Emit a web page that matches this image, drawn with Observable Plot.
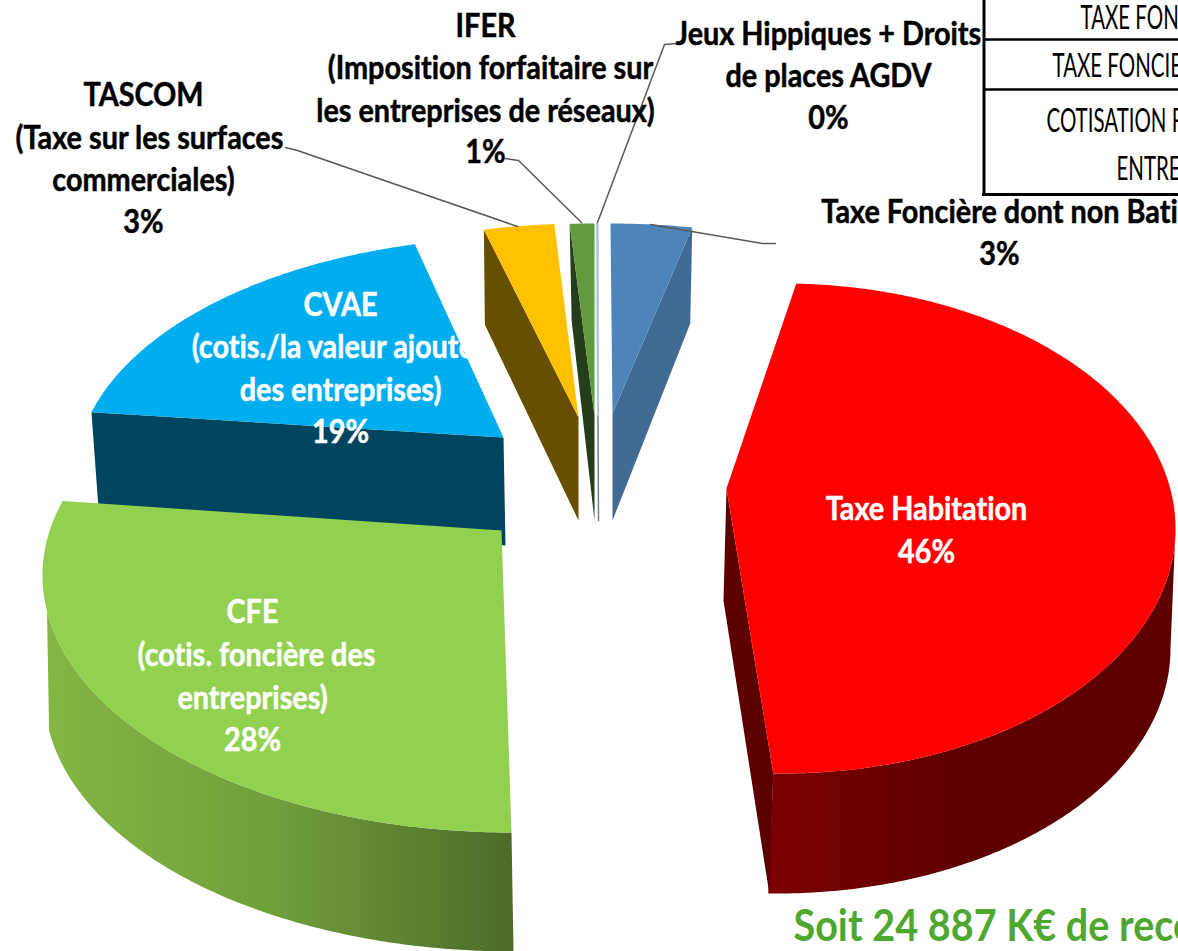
<!DOCTYPE html>
<html lang="fr">
<head>
<meta charset="utf-8">
<script src="https://cdn.jsdelivr.net/npm/d3@7"></script>
<script src="https://cdn.jsdelivr.net/npm/@observablehq/plot@0.6"></script>
<style>
html,body{margin:0;padding:0;background:#fff;overflow:hidden}
svg{display:block}
svg text{font-variant-ligatures:none;font-feature-settings:"liga" 0}
</style>
</head>
<body>
<div id="chart"></div>
<script>
// ---- data ----
const sliceNames = ["Taxe Foncière dont non Bati","Taxe Habitation","CFE","CVAE","TASCOM","IFER","Jeux Hippiques + Droits de places AGDV"];
const sliceValues = [3,46,28,19,3,1,0];
const tableLines = ["TAXE FONCIERE","TAXE FONCIERE","COTISATION FONCIERE","ENTREPRISES"];
const footerText = "Soit 24 887 K€ de recettes";

// ---- layout of the exploded, perspective pie (one entry per slice) ----
const shape = [
 {start:0,    stretch:.98, c:[610,455], r:[445,232], apex:[612,413], apexB:[612,520], wall:"end",   off:[-2,96],  top:"#4d85bb", side:"#3f6b94"},
 {start:2,    stretch:1.083,c:[782,528],r:[393,245], apex:[726,488], apexB:[723,600], wall:"end",   off:[-4,120], top:"#ff0000", side:"#5c0000", rim:[90,"url(#rimRed)"], rimAt:"end", rimOff:[-5,120]},
 {start:180,  stretch:1.06,c:[511,575], r:[469,257], apex:[501,530], top:"#92d050", rim:[262,"url(#rimGreen)"], rimAt:"start", rimOff:[2,119]},
 {start:285.4,stretch:.89, c:[520,475], r:[445,238], apex:[503,437], apexB:[505,545], wall:"start", off:[7,96],   top:"#00aeef", side:"#00455f"},
 {start:346.8,stretch:.85, c:[585,455], r:[445,232], apex:[578,417], apexB:[578,520], wall:"start", off:[1,95],   top:"#ffc000", side:"#665000"},
 {start:356.8,stretch:.89, c:[594,455], r:[445,232], apex:[594,415], apexB:[594,520], wall:"start", off:[2,97],   top:"#629a3e", side:"#243d1a"},
 {start:360,  stretch:1,   c:[597,455], r:[445,232], apex:[597.5,415], apexB:[598,520], wall:"start", off:[0,97], top:"#a9c4e4", side:"#6b7f94", hair:true}
];
const drawOrder = [3,2,4,5,6,0,1];

const dark = "#000";
const labels = [
 {x:143,y:95,t:"TASCOM",f:dark},{x:149,y:138,t:"(Taxe sur les surfaces",f:dark},{x:143,y:180,t:"commerciales)",f:dark},{x:143,y:222,t:"3%",f:dark},
 {x:485,y:26,t:"IFER",f:dark},{x:490,y:68,t:"(Imposition forfaitaire sur",f:dark},{x:485,y:111,t:"les entreprises de réseaux)",f:dark},{x:485,y:152,t:"1%",f:dark},
 {x:828,y:34,t:"Jeux Hippiques + Droits",f:dark},{x:828,y:76,t:"de places AGDV",f:dark},{x:828,y:118,t:"0%",f:dark},
 {x:999,y:212,t:"Taxe Foncière dont non Bati",f:dark},{x:999,y:254,t:"3%",f:dark},
 {x:340,y:305,t:"CVAE",f:"#fff"},{x:340,y:347,t:"(cotis./la valeur ajoutée",f:"#fff"},{x:340,y:390,t:"des entreprises)",f:"#fff"},{x:340,y:432,t:"19%",f:"#fff"},
 {x:252,y:612,t:"CFE",f:"#fff"},{x:256,y:655,t:"(cotis. foncière des",f:"#fff"},{x:252,y:698,t:"entreprises)",f:"#fff"},{x:252,y:740,t:"28%",f:"#fff"},
 {x:926,y:509,t:"Taxe Habitation",f:"#fff"},{x:926,y:552,t:"46%",f:"#fff"}
];
const leaders = [
 [[285,147],[297,150],[517,226]],
 [[505,158],[518,160],[581,222]],
 [[676,43],[664,44],[597,222]],
 [[775,243],[762,243],[650,224]]
];
const tableText = [{x:1080,y:18,t:tableLines[0]},{x:1052,y:66,t:tableLines[1]},{x:1046,y:121,t:tableLines[2]},{x:1116,y:169,t:tableLines[3]}];

// ---- geometry from values ----
const rad = Math.PI/180;
const pt = (s,t,o=[0,0]) => [s.c[0]+s.r[0]*Math.sin(t*rad)+o[0], s.c[1]-s.r[1]*Math.cos(t*rad)+o[1]];
const arc = (s,a,b,o) => { const n = Math.max(2,Math.ceil(Math.abs(b-a)*2)); return d3.range(n+1).map(i=>pt(s,a+(b-a)*i/n,o)); };
const poly = (pts,fill,extra={}) => Plot.line(pts,{x:d=>d[0],y:d=>d[1],fill,stroke:"none",curve:"linear",...extra});

const marks = [];
const defs = () => {
  const ns = "http://www.w3.org/2000/svg";
  const g = document.createElementNS(ns,"defs");
  const grad = (id,x1,x2,stops)=>{
    const l = document.createElementNS(ns,"linearGradient");
    l.setAttribute("id",id); l.setAttribute("gradientUnits","userSpaceOnUse");
    l.setAttribute("x1",x1); l.setAttribute("x2",x2); l.setAttribute("y1",0); l.setAttribute("y2",0);
    stops.forEach(([o,c])=>{const s=document.createElementNS(ns,"stop");s.setAttribute("offset",o);s.setAttribute("stop-color",c);l.appendChild(s);});
    g.appendChild(l);
  };
  grad("rimRed",770,960,[[0,"#7c0000"],[1,"#5e0000"]]);
  grad("rimGreen",45,513,[[0,"#84b642"],[.5,"#6f9e3b"],[1,"#4c6b28"]]);
  return g;
};
marks.push(defs);

drawOrder.forEach(i=>{
  const s = shape[i], span = sliceValues[i]*3.6*s.stretch, a = s.start, b = s.start+span;
  const hair = s.hair ? {stroke:s.top,strokeWidth:2} : {};
  if (s.rim) {
    const [from,fill] = s.rim;
    const near = s.rimAt==="start" ? a : b;
    const top = arc(s,from,near), bot = arc(s,near,from,s.rimOff);
    marks.push(poly([...top,...bot],fill));
  }
  if (s.wall) {
    const t = s.wall==="end" ? b : a;
    const opts = s.hair ? {stroke:s.side,strokeWidth:1.5} : {};
    marks.push(poly([pt(s,t),pt(s,t,s.off),s.apexB,s.apex],s.side,opts));
  }
  marks.push(poly([s.apex,...arc(s,a,b)],s.top,hair));
});

// table
marks.push(Plot.ruleX([983.5],{y1:0,y2:195,stroke:"#000",strokeWidth:3}));
marks.push(Plot.ruleY([39,89],{x1:984,x2:1178,stroke:"#000",strokeWidth:2.5}));
marks.push(Plot.ruleY([194],{x1:982,x2:1178,stroke:"#000",strokeWidth:3}));
marks.push(Plot.text(tableText,{x:"x",y:"y",text:"t",textAnchor:"start",fontSize:33,fill:"#000",fontFamily:"Lato,sans-serif"}));

// leaders
leaders.forEach(l=>marks.push(Plot.line(l,{x:d=>d[0],y:d=>d[1],stroke:"#595959",strokeWidth:1.5,curve:"linear"})));

// labels
marks.push(Plot.text(labels,{x:"x",y:"y",text:"t",fill:"f",stroke:"f",strokeWidth:.5,fontSize:32,fontWeight:"bold",fontFamily:"Lato,sans-serif"}));
marks.push(Plot.text([footerText],{x:793,y:927,textAnchor:"start",fontSize:43,fontWeight:"bold",fill:"#4ea72e",fontFamily:"Lato,sans-serif"}));

const chart = Plot.plot({
  width:1178,height:951,margin:0,
  x:{domain:[0,1178],range:[0,1178],axis:null},
  y:{domain:[0,951],range:[0,951],axis:null},
  color:{type:"identity"},
  marks
});
document.getElementById("chart").appendChild(chart);

// condense the text horizontally, as the stretched picture does
const squeeze = [.62,.9,.92];
d3.select(chart).selectAll('g[aria-label="text"]').each(function(_,i){
  d3.select(this).selectAll("text").each(function(){
    const len = this.getComputedTextLength();
    this.setAttribute("lengthAdjust","spacingAndGlyphs");
    this.setAttribute("textLength",len*squeeze[i]);
  });
});
</script>
</body>
</html>
